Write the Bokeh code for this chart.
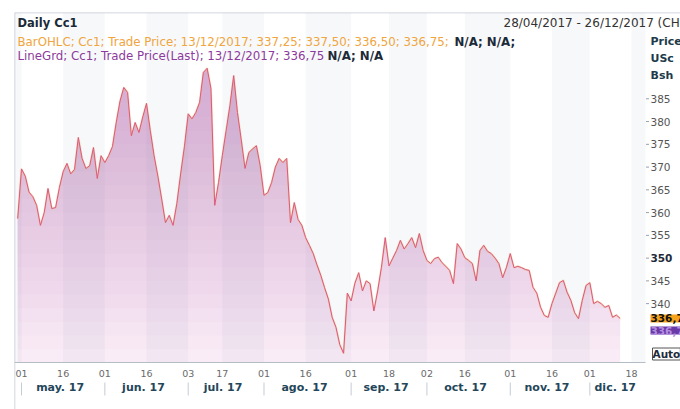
import numpy as np
import pandas as pd
from bokeh.plotting import figure
from bokeh.models import Label, Span, Range1d
from bokeh.core.properties import value
from bokeh.embed import file_html
from bokeh.resources import INLINE

# ---------------- data ----------------
holidays = ["2017-05-29", "2017-07-04", "2017-09-04", "2017-11-23", "2017-12-25"]

closes = [
    358.7, 369.6, 368.0, 364.5, 363.5, 361.6, 357.2, 360.0, 365.3, 360.9,
    361.1, 365.5, 369.0, 370.8, 368.5, 369.5, 376.5, 371.9, 369.7, 370.3,
    374.3, 367.5, 372.5, 371.0, 372.5, 374.5, 379.8, 384.5, 387.5, 386.4,
    376.9, 379.8, 377.6, 381.0, 384.0, 378.0, 372.5, 368.0, 363.0, 357.8,
    359.4, 357.2, 362.0, 368.5, 374.5, 381.7, 380.6, 382.0, 384.2, 390.8,
    391.7, 387.3, 361.6, 366.6, 372.5, 378.0, 383.5, 390.1, 382.0, 376.0,
    369.7, 373.2, 374.0, 374.7, 370.3, 363.8, 364.4, 366.6, 370.0, 371.9,
    371.0, 371.9, 357.8, 362.2, 358.5, 357.2, 354.5, 352.8, 351.0, 348.5,
    346.2, 343.5, 341.0, 337.0, 334.8, 331.0, 329.1, 342.3, 340.6, 344.5,
    346.8, 342.8, 345.0, 344.4, 338.4, 342.8, 348.0, 354.5, 348.3, 350.0,
    351.7, 353.9, 352.0, 353.2, 354.5, 352.3, 355.4, 351.7, 349.5, 348.8,
    349.9, 350.2, 349.0, 348.2, 347.3, 344.4, 353.2, 352.0, 350.1, 349.5,
    348.8, 345.0, 351.7, 352.8, 351.5, 351.0, 350.0, 348.8, 345.7, 348.0,
    351.0, 347.9, 348.2, 347.9, 347.5, 347.3, 343.6, 342.3, 339.2, 337.4,
    337.0, 340.0, 342.3, 344.6, 345.1, 342.5, 340.7, 338.0, 336.7, 340.7,
    344.0, 344.6, 340.0, 340.5, 340.0, 339.2, 339.6, 337.0, 337.5, 336.75,
]

day_tick_dates = ["2017-05-01", "2017-05-16", "2017-06-01", "2017-06-16",
                  "2017-07-03", "2017-07-17", "2017-08-01", "2017-08-16",
                  "2017-09-01", "2017-09-18", "2017-10-02", "2017-10-16",
                  "2017-11-01", "2017-11-16", "2017-12-01", "2017-12-18"]
month_start_dates = ["2017-05-01", "2017-06-01", "2017-07-03", "2017-08-01",
                     "2017-09-01", "2017-10-02", "2017-11-01", "2017-12-01"]
month_labels = ["may. 17", "jun. 17", "jul. 17", "ago. 17",
                "sep. 17", "oct. 17", "nov. 17", "dic. 17"]
price_ticks = [340, 345, 350, 355, 360, 365, 370, 375, 380, 385]
bold_tick = 350

last_price = 336.75
title_text = "Daily Cc1"
legend1 = "BarOHLC; Cc1; Trade Price; 13/12/2017; 337,25; 337,50; 336,50; 336,75;"
legend2 = "LineGrd; Cc1; Trade Price(Last); 13/12/2017; 336,75"
na1 = "N/A; N/A;"
na2 = "N/A; N/A"
header_text = "28/04/2017 - 26/12/2017 (CH"
unit_lines = ["Price", "USc", "Bsh"]

# ---------------- trading-day index ----------------
days = pd.bdate_range("2017-04-28", "2017-12-29")
days = days[~days.isin(pd.to_datetime(holidays))]
pos = {d.strftime("%Y-%m-%d"): i for i, d in enumerate(days)}
x = np.arange(len(closes))
y = np.array(closes)

day_ticks = [pos[d] for d in day_tick_dates]
day_labels = [d[-2:] for d in day_tick_dates]
month_starts = [pos[d] for d in month_start_dates]
ends = month_starts[1:] + [len(closes) - 1 + 7]
month_pos = [(a + b) / 2 - 0.8 for a, b in zip(month_starts, ends)]

# ---------------- geometry (px) ----------------
W, H = 680, 409
FL, FT = 14, 12          # frame left / top
AR, AB = 645, 362        # plot-area right edge / bottom (axis line)
X0, DX = 17.2, 3.789     # px of index 0, px per trading day
Y385, DY = 98.3, 4.552   # px of 385, px per USc


def xv(px):
    return (px - X0) / DX


def yv(py):
    return 385 + (Y385 - py) / DY


p = figure(width=W, height=H, output_backend="svg", toolbar_location=None,
           x_range=Range1d(xv(FL), xv(W)), y_range=Range1d(yv(H), yv(FT)),
           x_axis_location=None, y_axis_location=None,
           min_border_left=FL, min_border_right=0,
           min_border_top=FT, min_border_bottom=0)
p.outline_line_color = None
p.grid.visible = False
p.background_fill_color = "white"
p.border_fill_color = "white"

ybot, ytop = yv(AB), yv(FT)
xleft, xright = xv(FL), xv(AR)

# area fill: pale base + layered tint giving a vertical gradient
p.varea(x=x, y1=ybot, y2=y, fill_color="#f9ecf6")
for t in np.arange(330, 393, 3):
    p.varea(x=x, y1=t, y2=np.maximum(y, t), fill_color="#b47cc4", fill_alpha=0.027)

# alternating half-month bands (16th -> 1st shaded)
band_l = [xleft] + day_ticks[1::2]
band_r = ([day_ticks[0]] + day_ticks[2::2] + [xright])[:len(band_l)]
p.quad(left=band_l, right=band_r, bottom=ybot, top=ytop,
       fill_color="#6a7896", fill_alpha=0.05, line_color=None)

# OHLC halo + close line
p.line(x, y, line_color="#f3b64a", line_width=2.0, line_alpha=0.4)
p.line(x, y, line_color="#da5789", line_width=1.0)

# borders / axis line
p.add_layout(Span(location=ytop - 0.05, dimension="width", line_color="#b4bcc6", line_width=1))
p.add_layout(Span(location=xleft + 0.05, dimension="height", line_color="#b4bcc6", line_width=1))
p.segment(x0=[xleft], y0=[ybot], x1=[xright], y1=[ybot], line_color="#b4bcc6", line_width=1)

FONT = value("DejaVu Sans")

# ---------------- x axis (days + months) ----------------
p.text(x=day_ticks, y=[yv(373)] * len(day_ticks), text=day_labels,
       text_font=FONT, text_font_size="9.5px", text_color="#6a6a6a",
       text_align="center", text_baseline="middle")
p.text(x=month_pos, y=[yv(386.5)] * len(month_pos), text=month_labels,
       text_font=FONT, text_font_size="11px", text_font_style="bold",
       text_color="#24465a", text_align="center", text_baseline="middle")
p.segment(x0=month_starts, y0=[yv(382)] * len(month_starts),
          x1=month_starts, y1=[yv(395)] * len(month_starts),
          line_color="#c4ccd4", line_width=1)

# ---------------- price axis ----------------
reg = [t for t in price_ticks if t != bold_tick]
p.segment(x0=[xv(AR + 0.5)] * len(price_ticks), y0=price_ticks,
          x1=[xv(AR + 3.5)] * len(price_ticks), y1=price_ticks,
          line_color="#9aa0a8", line_width=1)
p.text(x=[xv(650)] * len(reg), y=reg, text=[str(t) for t in reg],
       text_font=FONT, text_font_size="10.5px", text_color="#555555",
       text_align="left", text_baseline="middle")
p.text(x=[xv(650)], y=[bold_tick], text=[str(bold_tick)],
       text_font=FONT, text_font_size="10.5px", text_font_style="bold",
       text_color="#1d2b3a", text_align="left", text_baseline="middle")
p.text(x=[xv(650)] * 3, y=[yv(41), yv(57.5), yv(74.5)], text=unit_lines,
       text_font=FONT, text_font_size="11px", text_font_style="bold",
       text_color="#1d3b4a", text_align="left", text_baseline="middle")


# ---------------- texts ----------------
def lab(px, val, text, color, size="11.8px", bold=False, **kw):
    L = Label(x=xv(px), y=val, text=text, text_color=color, text_font="DejaVu Sans",
              text_font_size=size, text_font_style="bold" if bold else "normal",
              text_align="left", text_baseline="middle", **kw)
    p.add_layout(L)
    return L


lab(17, yv(22), title_text, "#1b2a38", size="11.5px", bold=True)
lab(17, yv(41.5), legend1, "#f0a53e")
lab(454, yv(41.5), na1, "#1b2a38", bold=True)
lab(17, yv(55.5), legend2, "#8c3a9c")
lab(327, yv(55.5), na2, "#1b2a38", bold=True)
lab(503, yv(22), header_text, "#333333", size="12px")

lab(650, last_price, "336,75", "#111111", size="10.5px", bold=True,
    background_fill_color="#f5a21c")
lab(650, yv(330), "336,75", "#b48ee0", size="10.5px", bold=True,
    background_fill_color="#6a3aa6")
lab(652, yv(353.5), "Auto", "#1d2b3a", size="10.5px", bold=True,
    background_fill_color="white", border_line_color="#555555")

open("out.html", "w").write(file_html(p, INLINE))
